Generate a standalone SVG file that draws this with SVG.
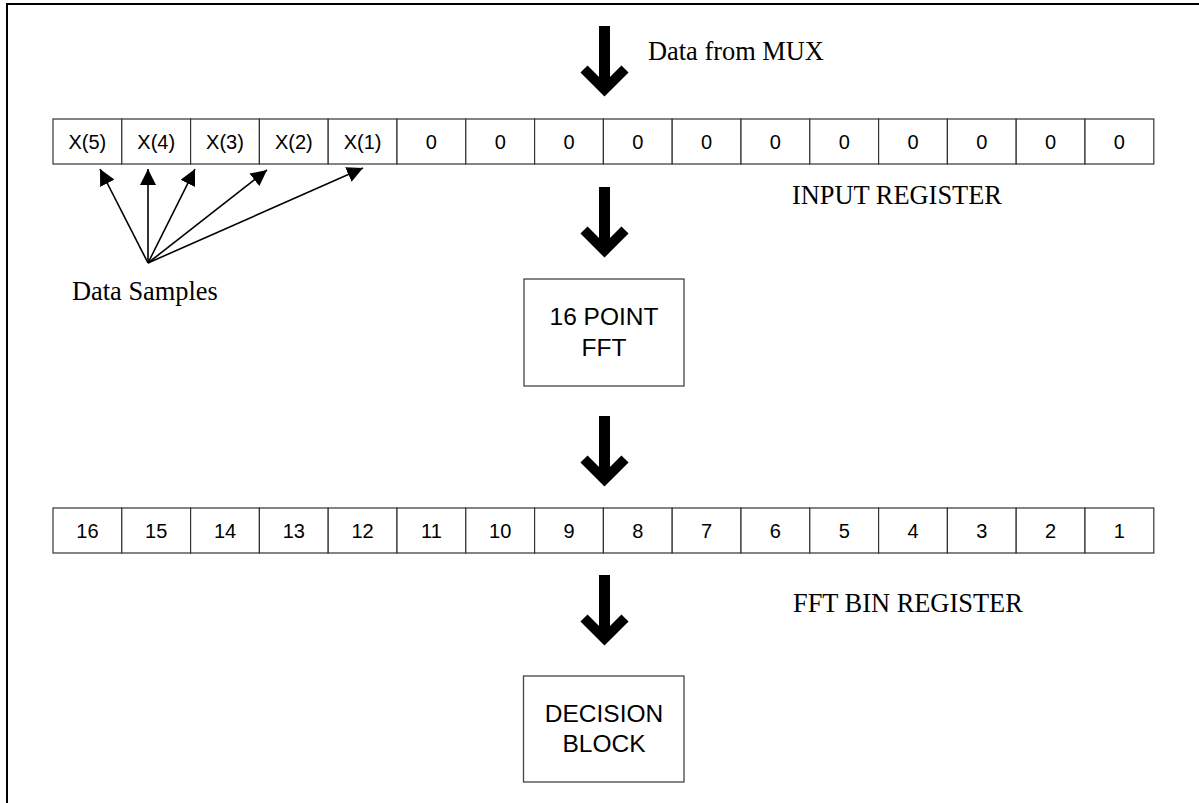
<svg xmlns="http://www.w3.org/2000/svg" width="1199" height="803" viewBox="0 0 1199 803">
<defs>
<style>
.cell{fill:#fff;stroke:#333;stroke-width:1.2}
.box{fill:#fff;stroke:#444;stroke-width:1.3}
.ct{font-family:"Liberation Sans",Arial,sans-serif;font-size:20px;fill:#000;text-anchor:middle}
.bt{font-family:"Liberation Sans",Arial,sans-serif;font-size:24.5px;fill:#000;text-anchor:middle}
.lbl{font-family:"Liberation Serif","Times New Roman",serif;font-size:26.4px;fill:#000}
.thin{stroke:#000;stroke-width:1.6;fill:none}
</style>
<marker id="tri" markerUnits="userSpaceOnUse" markerWidth="16" markerHeight="16" viewBox="0 0 15 15" refX="15" refY="7.5" orient="auto">
<path d="M0,0 L15,7.5 L0,15 z" fill="#000"/>
</marker>
<g id="bigArrow">
<line x1="0" y1="0" x2="0" y2="60" stroke="#000" stroke-width="11"/>
<polyline points="-20.5,43 0,63.5 20.5,43" fill="none" stroke="#000" stroke-width="10" stroke-linejoin="miter" stroke-miterlimit="10"/>
</g>
</defs>
<rect x="0" y="0" width="1199" height="803" fill="#fff"/>
<rect x="7" y="4" width="1300" height="900" fill="none" stroke="#000" stroke-width="2"/>

<g id="input-register">
<rect class="cell" x="53" y="119" width="68.8" height="45"/>
<rect class="cell" x="121.8" y="119" width="68.8" height="45"/>
<rect class="cell" x="190.6" y="119" width="68.8" height="45"/>
<rect class="cell" x="259.4" y="119" width="68.8" height="45"/>
<rect class="cell" x="328.2" y="119" width="68.8" height="45"/>
<rect class="cell" x="397" y="119" width="68.8" height="45"/>
<rect class="cell" x="465.8" y="119" width="68.8" height="45"/>
<rect class="cell" x="534.6" y="119" width="68.8" height="45"/>
<rect class="cell" x="603.4" y="119" width="68.8" height="45"/>
<rect class="cell" x="672.2" y="119" width="68.8" height="45"/>
<rect class="cell" x="741" y="119" width="68.8" height="45"/>
<rect class="cell" x="809.8" y="119" width="68.8" height="45"/>
<rect class="cell" x="878.6" y="119" width="68.8" height="45"/>
<rect class="cell" x="947.4" y="119" width="68.8" height="45"/>
<rect class="cell" x="1016.2" y="119" width="68.8" height="45"/>
<rect class="cell" x="1085" y="119" width="68.8" height="45"/>
<text class="ct" x="87.4" y="149">X(5)</text>
<text class="ct" x="156.2" y="149">X(4)</text>
<text class="ct" x="225" y="149">X(3)</text>
<text class="ct" x="293.8" y="149">X(2)</text>
<text class="ct" x="362.6" y="149">X(1)</text>
<text class="ct" x="431.4" y="149">0</text>
<text class="ct" x="500.2" y="149">0</text>
<text class="ct" x="569" y="149">0</text>
<text class="ct" x="637.8" y="149">0</text>
<text class="ct" x="706.6" y="149">0</text>
<text class="ct" x="775.4" y="149">0</text>
<text class="ct" x="844.2" y="149">0</text>
<text class="ct" x="913" y="149">0</text>
<text class="ct" x="981.8" y="149">0</text>
<text class="ct" x="1050.6" y="149">0</text>
<text class="ct" x="1119.4" y="149">0</text>
</g>

<g id="bin-register">
<rect class="cell" x="53" y="508" width="68.8" height="45"/>
<rect class="cell" x="121.8" y="508" width="68.8" height="45"/>
<rect class="cell" x="190.6" y="508" width="68.8" height="45"/>
<rect class="cell" x="259.4" y="508" width="68.8" height="45"/>
<rect class="cell" x="328.2" y="508" width="68.8" height="45"/>
<rect class="cell" x="397" y="508" width="68.8" height="45"/>
<rect class="cell" x="465.8" y="508" width="68.8" height="45"/>
<rect class="cell" x="534.6" y="508" width="68.8" height="45"/>
<rect class="cell" x="603.4" y="508" width="68.8" height="45"/>
<rect class="cell" x="672.2" y="508" width="68.8" height="45"/>
<rect class="cell" x="741" y="508" width="68.8" height="45"/>
<rect class="cell" x="809.8" y="508" width="68.8" height="45"/>
<rect class="cell" x="878.6" y="508" width="68.8" height="45"/>
<rect class="cell" x="947.4" y="508" width="68.8" height="45"/>
<rect class="cell" x="1016.2" y="508" width="68.8" height="45"/>
<rect class="cell" x="1085" y="508" width="68.8" height="45"/>
<text class="ct" x="87.4" y="538">16</text>
<text class="ct" x="156.2" y="538">15</text>
<text class="ct" x="225" y="538">14</text>
<text class="ct" x="293.8" y="538">13</text>
<text class="ct" x="362.6" y="538">12</text>
<text class="ct" x="431.4" y="538">11</text>
<text class="ct" x="500.2" y="538">10</text>
<text class="ct" x="569" y="538">9</text>
<text class="ct" x="637.8" y="538">8</text>
<text class="ct" x="706.6" y="538">7</text>
<text class="ct" x="775.4" y="538">6</text>
<text class="ct" x="844.2" y="538">5</text>
<text class="ct" x="913" y="538">4</text>
<text class="ct" x="981.8" y="538">3</text>
<text class="ct" x="1050.6" y="538">2</text>
<text class="ct" x="1119.4" y="538">1</text>
</g>

<g id="fft">
<rect class="box" x="524" y="279" width="160" height="107"/>
<text class="bt" x="604" y="325">16 POINT</text>
<text class="bt" x="604" y="356">FFT</text>
</g>

<g id="decision">
<rect class="box" x="523.5" y="676" width="160.5" height="106"/>
<text class="bt" x="604" y="722">DECISION</text>
<text class="bt" x="604" y="752">BLOCK</text>
</g>

<g id="labels">
<text class="lbl" x="648" y="60">Data from MUX</text>
<text class="lbl" x="792" y="204">INPUT REGISTER</text>
<text class="lbl" x="793" y="612">FFT BIN REGISTER</text>
<text class="lbl" x="72" y="300">Data Samples</text>
</g>

<g id="connectors">
<use href="#bigArrow" x="604.5" y="26"/>
<use href="#bigArrow" x="604.5" y="187"/>
<use href="#bigArrow" x="604.5" y="416"/>
<use href="#bigArrow" x="604.5" y="575"/>
<line class="thin" x1="148" y1="263" x2="100" y2="169" marker-end="url(#tri)"/>
<line class="thin" x1="148" y1="263" x2="148" y2="169" marker-end="url(#tri)"/>
<line class="thin" x1="148" y1="263" x2="195" y2="169" marker-end="url(#tri)"/>
<line class="thin" x1="148" y1="263" x2="267" y2="170" marker-end="url(#tri)"/>
<line class="thin" x1="148" y1="263" x2="363" y2="168" marker-end="url(#tri)"/>
</g>
</svg>
